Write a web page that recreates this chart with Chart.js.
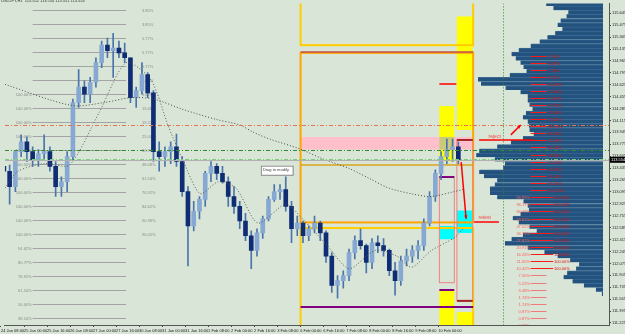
<!DOCTYPE html>
<html>
<head>
<meta charset="utf-8">
<script src="https://cdn.jsdelivr.net/npm/chart.js@4.4.0/dist/chart.umd.min.js"></script>
<style>
  html, body { margin: 0; padding: 0; background: #d9e6d7; }
  #wrap { width: 625px; height: 334px; }
</style>
</head>
<body>
<div id="wrap"><canvas id="chart"></canvas></div>
<script>
// USDJPY, 24 Jan - 10 Feb, drawn as 4 hour candles (x = trading hours from 24 Jan 08:00)
const opens = [
  113.46, 113.39, 113.17, 113.67, 113.81, 113.67, 113.55, 113.64, 113.67, 113.46,
  113.17, 113.24, 113.60, 114.37, 114.59, 114.49, 114.66, 114.94, 115.19, 115.11,
  115.15, 115.08, 115.01, 114.44, 114.54, 114.77, 114.51, 113.67, 113.60, 113.67,
  113.74, 113.53, 113.10, 112.61, 112.82, 112.99, 113.36, 113.46, 113.36, 113.24,
  113.03, 112.89, 112.68, 112.47, 112.26, 112.51, 112.71, 112.99, 113.10, 113.13,
  112.89, 112.57, 112.65, 112.47, 112.57, 112.65, 112.51, 112.18, 111.76, 111.83,
  111.90, 112.23, 112.40, 112.33, 112.09, 112.37, 112.33, 112.26, 111.97, 111.83,
  112.11, 112.18, 112.26, 112.33, 112.65, 113.03, 113.36, 113.60, 113.70, 113.74
];
const highs = [
  113.53, 113.48, 113.67, 113.91, 113.88, 113.74, 113.70, 113.91, 113.74, 113.53,
  113.31, 113.67, 114.42, 114.84, 114.68, 114.73, 115.01, 115.25, 115.29, 115.36,
  115.25, 115.22, 115.01, 114.59, 114.94, 114.80, 114.54, 113.81, 113.74, 113.81,
  113.92, 113.60, 113.17, 112.96, 113.03, 113.39, 113.53, 113.50, 113.46, 113.31,
  113.17, 112.96, 112.79, 112.54, 112.57, 112.75, 113.03, 113.20, 113.20, 113.31,
  112.96, 112.75, 112.68, 112.61, 112.75, 112.68, 112.54, 112.23, 111.90, 111.97,
  112.28, 112.47, 112.57, 112.35, 112.43, 112.47, 112.43, 112.28, 112.09, 112.18,
  112.28, 112.33, 112.40, 112.71, 113.10, 113.41, 113.67, 113.85, 113.85, 113.81
];
const lows = [
  113.31, 112.92, 113.10, 113.60, 113.53, 113.46, 113.46, 113.55, 113.39, 113.03,
  113.03, 113.10, 113.55, 114.30, 114.37, 114.37, 114.59, 114.87, 115.01, 114.73,
  115.01, 114.94, 114.37, 114.30, 114.49, 114.44, 113.53, 113.39, 113.46, 113.50,
  113.46, 113.03, 112.04, 112.54, 112.71, 112.89, 113.24, 113.27, 113.22, 112.89,
  112.79, 112.57, 112.40, 112.00, 112.18, 112.43, 112.68, 112.96, 112.99, 112.82,
  112.37, 112.47, 112.37, 112.40, 112.51, 112.40, 112.09, 111.66, 111.58, 111.72,
  111.83, 112.14, 112.28, 111.94, 112.00, 112.23, 112.18, 111.90, 111.62, 111.76,
  112.04, 112.09, 112.14, 112.26, 112.61, 112.96, 113.27, 113.50, 113.53, 113.50
];
const closes = [
  113.39, 113.17, 113.67, 113.81, 113.67, 113.55, 113.64, 113.67, 113.46, 113.17,
  113.24, 113.60, 114.37, 114.59, 114.49, 114.66, 114.94, 115.19, 115.11, 115.15,
  115.08, 115.01, 114.44, 114.54, 114.77, 114.51, 113.67, 113.60, 113.67, 113.74,
  113.53, 113.10, 112.61, 112.82, 112.99, 113.36, 113.46, 113.36, 113.24, 113.03,
  112.89, 112.68, 112.47, 112.26, 112.51, 112.71, 112.99, 113.10, 113.13, 112.89,
  112.57, 112.65, 112.47, 112.57, 112.65, 112.51, 112.18, 111.76, 111.83, 111.90,
  112.23, 112.40, 112.33, 112.09, 112.37, 112.33, 112.26, 111.97, 111.83, 112.11,
  112.18, 112.26, 112.33, 112.65, 113.03, 113.36, 113.60, 113.70, 113.74, 113.55
];
const barHours = opens.map((o, i) => i * 4 + 2);

// moving averages, [hour, price]
const slowMA = [
  [2.8, 114.63], [49, 114.33], [71.7, 114.37], [90.3, 114.44], [106.2, 114.42], [126.9, 114.27],
  [149.7, 114.13], [166.2, 114.05], [175.2, 113.95], [186.9, 113.85], [207.6, 113.71], [223.4, 113.57],
  [242.1, 113.43], [255.9, 113.29], [269.7, 113.15], [287.6, 113.06], [299.3, 113.03], [315.2, 113.10], [321.4, 113.13]
];
const fastMA = [
  [2.8, 113.15], [11.7, 113.39], [30.3, 113.50], [47.6, 113.48], [68.3, 114.23], [86.9, 114.94],
  [104.1, 114.70], [116.6, 114.02], [128.3, 113.46], [138.6, 113.07], [151, 113.24], [163.4, 113.15],
  [178.6, 112.65], [197.9, 112.92], [209.7, 112.71], [226.9, 112.33], [242.1, 112.00], [260, 112.26],
  [275.2, 112.18], [285.5, 112.02], [299.3, 112.26], [315.2, 112.44], [321.4, 112.57]
];

// volume profile on the right
const profileLevels = [
  115.78, 115.72, 115.66, 115.60, 115.54, 115.48, 115.42, 115.36, 115.30, 115.24,
  115.18, 115.12, 115.06, 115.00, 114.94, 114.88, 114.82, 114.76, 114.70, 114.64,
  114.58, 114.52, 114.46, 114.40, 114.34, 114.28, 114.22, 114.16, 114.10, 114.04,
  113.98, 113.92, 113.86, 113.80, 113.74, 113.68, 113.62, 113.56, 113.50, 113.44,
  113.38, 113.32, 113.26, 113.20, 113.14, 113.08, 113.02, 112.96, 112.90, 112.84,
  112.78, 112.72, 112.66, 112.60, 112.54, 112.48, 112.42, 112.36, 112.30, 112.24,
  112.18, 112.12, 112.06, 112.00, 111.94, 111.88, 111.82, 111.76, 111.70, 111.64
];
const profileVolume = [
  9.5, 8.3, 5.8, 6.1, 7.1, 7.6, 6.8, 8.0, 9.3, 10.6,
  12.1, 14.1, 15.3, 14.6, 13.8, 13.3, 12.8, 15.6, 20.9, 20.4,
  16.3, 13.8, 12.6, 12.6, 12.3, 11.8, 12.9, 13.4, 12.6, 12.4,
  12.3, 11.6, 13.4, 15.4, 17.7, 20.7, 21.2, 18.1, 16.4, 16.7,
  20.7, 19.9, 17.7, 18.1, 18.9, 18.9, 17.7, 13.3, 12.6, 12.4,
  13.8, 15.1, 14.1, 12.3, 11.1, 13.4, 15.3, 16.4, 12.6, 9.8,
  7.6, 5.5, 4.0, 4.5, 6.0, 6.6, 5.1, 3.2, 1.2, 0.2
];

// axis ticks
const priceTicks = [
  115.645, 115.475, 115.305, 115.135, 114.965, 114.795, 114.625, 114.455, 114.285, 114.115,
  113.945, 113.775, 113.605, 113.435, 113.265, 113.095, 112.925, 112.755, 112.585, 112.415,
  112.245, 112.075, 111.905, 111.735, 111.565, 111.395, 111.225
];
const timeTicks = [0, 16, 32, 48, 64, 80, 96, 112, 128, 144, 160, 176, 192, 208, 224, 240, 256, 272, 288, 304];
const timeLabels = [
  '24 Jan 08:00', '25 Jan 00:00', '25 Jan 16:00', '26 Jan 08:00', '27 Jan 00:00', '27 Jan 16:00',
  '30 Jan 08:00', '31 Jan 00:00', '31 Jan 16:00', '1 Feb 08:00', '2 Feb 00:00', '2 Feb 16:00',
  '3 Feb 08:00', '6 Feb 00:00', '6 Feb 16:00', '7 Feb 08:00', '8 Feb 00:00', '8 Feb 16:00',
  '9 Feb 08:00', '10 Feb 00:00'
];

// fibo levels on the left
const fibLevels = [
  115.69, 115.49, 115.29, 115.09, 114.89, 114.69, 114.49, 114.29, 114.09, 113.89, 113.69, 113.49,
  113.29, 113.09, 112.89, 112.69, 112.49, 112.29, 112.09, 111.89, 111.69, 111.49, 111.29
];
const fibLeft = [
  '', '', '', '', '', '', '100.00%', '100.00%', '100.00%', '100.00%', '100.00%', '100.00%',
  '100.00%', '100.00%', '100.00%', '100.00%', '100.00%', '94.62%', '80.77%', '76.92%', '61.54%', '50.00%', '38.54%'
];
const fibRight = [
  '3.85%', '3.85%', '5.77%', '5.77%', '5.77%', '9.62%', '9.62%', '13.46%', '19.23%', '25.00%', '30.77%', '48.08%',
  '61.54%', '76.92%', '84.62%', '90.38%', '96.05%', '', '', '', '', '', ''
];
const fibSpan = [22, 87];
const fibLabelHour = 98;

// red level lines over the profile
const levelPrices = [
  115.04, 114.94, 114.84, 114.74, 114.64, 114.53, 114.43, 114.33, 114.23, 114.13,
  114.03, 113.93, 113.83, 113.73, 113.62, 113.52, 113.42, 113.32, 113.22, 113.12,
  113.02, 112.92, 112.82, 112.71, 112.61, 112.51, 112.41, 112.31, 112.21, 112.11,
  112.01, 111.91, 111.80, 111.70, 111.60, 111.50, 111.40, 111.30, 111.20
];
const levelRight = [
  '5.32%', '6.09%', '7.40%', '8.75%', '10.46%', '12.64%', '15.86%', '19.15%', '23.46%', '30.46%',
  '35.76%', '38.28%', '45.48%', '51.38%', '58.36%', '70.10%', '80.56%', '91.06%', '96.15%', '100.00%',
  '100.00%', '100.00%', '100.00%', '100.00%', '100.00%', '100.00%', '100.00%', '100.00%', '100.00%', '100.00%',
  '100.00%', '', '', '', '', '', '', '', ''
];
const levelLeft = [
  '', '', '', '', '', '', '', '', '', '', '', '', '', '', '', '', '', '', '', '',
  '99.99%', '96.17%', '84.73%', '69.81%', '47.52%', '34.78%', '27.82%', '20.91%', '16.26%', '11.65%',
  '10.42%', '7.50%', '5.22%', '3.48%', '1.74%', '1.74%', '0.87%', '0.87%', '0.87%'
];

// drawn objects: hours and prices
const zones = [
  { kind: 'yellow', h: [317, 328], p: [115.60, 113.98] },
  { kind: 'yellow', h: [304.8, 315.2], p: [114.32, 113.53] },
  { kind: 'pink', h: [208.3, 328.3], p: [113.88, 113.70] },
  { kind: 'olive', h: [304.8, 315.2], p: [113.88, 113.70] },
  { kind: 'yellow', h: [304.8, 315.2], p: [111.70, 110.90] },
  { kind: 'yellow', h: [317, 328], p: [111.38, 110.90] },
  { kind: 'cyan', h: [317, 328], p: [112.83, 112.51] },
  { kind: 'cyan', h: [304.8, 315.2], p: [112.61, 112.42] }
];
const frames = [
  { kind: 'gold', h: [208.3, 328.3], p: [116.50, 115.19] },
  { kind: 'orange', h: [208.3, 328.3], p: [115.08, 112.66] },
  { kind: 'gold', h: [208.3, 328.3], p: [112.58, 110.90] },
  { kind: 'salmon', h: [304.8, 315.2], p: [113.31, 111.80] },
  { kind: 'salmon', h: [317, 328], p: [113.84, 111.55] }
];
const segments = [
  { kind: 'brown', h: [208.3, 328.3], p: 115.09 },
  { kind: 'amber', h: [208.3, 328.3], p: 113.48 },
  { kind: 'purple', h: [208.3, 328.3], p: 111.46 },
  { kind: 'purple', h: [304.8, 315.2], p: 111.70 },
  { kind: 'purple', h: [304.8, 315.2], p: 113.31 },
  { kind: 'maroon', h: [317, 328], p: 113.84 },
  { kind: 'maroon', h: [317, 328], p: 111.54 }
];
const redSegments = [
  { h: [304.8, 316.6], p: 114.63 },
  { h: [332.4, 369.7], p: 113.84 },
  { h: [329, 346.2], p: 112.66 }
];
const arrows = [
  { from: [320, 113.52], to: [323.4, 112.71] },
  { from: [354.5, 113.91], to: [361.4, 114.05] }
];
const notes = [
  { text: 'reject', h: 339, p: 113.89 },
  { text: 'retest', h: 332, p: 112.73 }
];
const hLines = [
  { kind: 'dashOrange', p: 114.05 },
  { kind: 'green', p: 113.70 },
  { kind: 'lightgreen', p: 113.57 }
];
const bidPrice = 113.554;
const markerHour = 349;

const palette = {
  yellow: '#ffff00', pink: '#ffc0cb', olive: '#c9c97a', cyan: '#00ffff',
  gold: '#ffcc00', orange: '#ffa500', salmon: '#f08080', brown: '#c0504d',
  amber: '#daa520', purple: '#800080', maroon: '#8b0000', red: '#ff0000',
  green: '#2e8b2e', lightgreen: '#7ccd7c', dashOrange: '#e9714c'
};

const bull = '#86a8d2';
const bear = '#0f2d74';

function hline(ctx, x1, x2, y) {
  ctx.beginPath(); ctx.moveTo(x1, y); ctx.lineTo(x2, y); ctx.stroke();
}

const overlay = {
  id: 'overlay',
  beforeDatasetsDraw(chart) {
    const { ctx, chartArea: a } = chart;
    const X = v => chart.scales.x.getPixelForValue(v);
    const Y = v => chart.scales.y.getPixelForValue(v);
    ctx.save();
    ctx.beginPath(); ctx.rect(a.left, a.top, a.right - a.left, a.bottom - a.top); ctx.clip();

    ctx.font = '4px "Liberation Sans"';
    ctx.textBaseline = 'middle';
    ctx.lineWidth = 1;
    fibLevels.forEach((p, i) => {
      const yy = Math.round(Y(p)) + 0.5;
      ctx.strokeStyle = '#a4a4a4';
      hline(ctx, X(fibSpan[0]), X(fibSpan[1]), yy);
      ctx.fillStyle = '#8a8a8a';
      if (fibLeft[i]) { ctx.textAlign = 'right'; ctx.fillText(fibLeft[i], X(fibSpan[0]) - 1, yy); }
      if (fibRight[i]) { ctx.textAlign = 'left'; ctx.fillText(fibRight[i], X(fibLabelHour), yy); }
    });

    zones.forEach(z => {
      const x1 = X(z.h[0]), x2 = X(z.h[1]), y1 = Y(z.p[0]), y2 = Y(z.p[1]);
      ctx.fillStyle = palette[z.kind];
      ctx.fillRect(x1, y1, x2 - x1, y2 - y1);
    });
    frames.forEach(f => {
      const x1 = X(f.h[0]), x2 = X(f.h[1]), y1 = Y(f.p[0]), y2 = Y(f.p[1]);
      ctx.strokeStyle = palette[f.kind];
      ctx.lineWidth = f.kind === 'salmon' ? 1 : 2;
      ctx.strokeRect(x1, y1, x2 - x1, y2 - y1);
    });
    segments.forEach(s => {
      ctx.strokeStyle = palette[s.kind];
      ctx.lineWidth = s.kind === 'purple' ? 2 : 1.5;
      hline(ctx, X(s.h[0]), X(s.h[1]), Math.round(Y(s.p)));
    });
    ctx.restore();
  },
  afterDatasetsDraw(chart) {
    const { ctx, chartArea: a } = chart;
    const X = v => chart.scales.x.getPixelForValue(v);
    const Y = v => chart.scales.y.getPixelForValue(v);
    ctx.save();
    ctx.beginPath(); ctx.rect(a.left, a.top, a.right - a.left, a.bottom - a.top); ctx.clip();

    ctx.lineWidth = 1;
    ctx.setLineDash([4, 2, 1, 2]);
    hLines.forEach(l => {
      ctx.strokeStyle = palette[l.kind];
      hline(ctx, a.left, a.right, Math.round(Y(l.p)) + 0.5);
    });
    ctx.setLineDash([]);
    ctx.strokeStyle = '#b0b0b0';
    hline(ctx, a.left, a.right, Math.round(Y(bidPrice)) + 0.5);

    ctx.setLineDash([1, 2]);
    ctx.strokeStyle = palette.green;
    const mx = Math.round(X(markerHour)) + 0.5;
    ctx.beginPath(); ctx.moveTo(mx, a.top); ctx.lineTo(mx, a.bottom); ctx.stroke();
    ctx.setLineDash([]);

    // level lines with percentages
    ctx.font = '4px "Liberation Sans"';
    ctx.textBaseline = 'middle';
    levelPrices.forEach((p, i) => {
      const yy = Math.round(Y(p)) + 0.5;
      const both = levelLeft[i] && levelRight[i];
      ctx.strokeStyle = i > 30 ? '#f07a7a' : '#ff1a1a';
      ctx.lineWidth = 1;
      hline(ctx, X(368.3), X(both ? 384 : 379.3), yy);
      if (levelRight[i]) {
        ctx.fillStyle = '#e01010'; ctx.textAlign = 'left';
        ctx.fillText(levelRight[i], X(both ? 384.5 : 380.7), yy);
      }
      if (levelLeft[i]) {
        ctx.fillStyle = '#ff5a5a'; ctx.textAlign = 'right';
        ctx.fillText(levelLeft[i], X(367.8), yy);
      }
    });

    ctx.strokeStyle = palette.red;
    ctx.lineWidth = 1.5;
    redSegments.forEach(s => hline(ctx, X(s.h[0]), X(s.h[1]), Math.round(Y(s.p))));

    ctx.fillStyle = palette.red;
    arrows.forEach(ar => {
      const x1 = X(ar.from[0]), y1 = Y(ar.from[1]), x2 = X(ar.to[0]), y2 = Y(ar.to[1]);
      ctx.beginPath(); ctx.moveTo(x1, y1); ctx.lineTo(x2, y2); ctx.stroke();
      const ang = Math.atan2(y2 - y1, x2 - x1);
      ctx.beginPath();
      ctx.moveTo(x2, y2);
      ctx.lineTo(x2 - 4 * Math.cos(ang - 0.45), y2 - 4 * Math.sin(ang - 0.45));
      ctx.lineTo(x2 - 4 * Math.cos(ang + 0.45), y2 - 4 * Math.sin(ang + 0.45));
      ctx.closePath(); ctx.fill();
    });

    ctx.font = '5px "Liberation Sans"';
    ctx.textAlign = 'left';
    ctx.fillStyle = '#f04848';
    notes.forEach(n => ctx.fillText(n.text, X(n.h), Y(n.p)));

    // "Drag to modify" hint
    const tx = X(180.7), ty = Y(113.47);
    const tw = X(202.8) - tx, th = Y(113.34) - ty;
    ctx.fillStyle = '#ffffff'; ctx.fillRect(tx, ty, tw, th);
    ctx.strokeStyle = '#8a8a8a'; ctx.lineWidth = 1; ctx.strokeRect(tx + 0.5, ty + 0.5, tw, th);
    ctx.fillStyle = '#444'; ctx.font = '4px "Liberation Sans"';
    ctx.fillText('Drag to modify', tx + 2, ty + th / 2);
    ctx.restore();
  },
  afterDraw(chart) {
    const { ctx, chartArea: a } = chart;
    const yy = chart.scales.y.getPixelForValue(bidPrice);
    ctx.save();
    ctx.fillStyle = '#000';
    ctx.fillRect(a.right + 1, yy - 3, 16, 6);
    ctx.fillStyle = '#fff';
    ctx.font = '4px "Liberation Sans"';
    ctx.textBaseline = 'middle'; ctx.textAlign = 'left';
    ctx.fillText(bidPrice.toFixed(3), a.right + 2, yy);
    ctx.fillStyle = '#333';
    ctx.fillText('USDJPY,H1  113.552 113.554 113.551 113.554', 1, 0.5);
    ctx.restore();
  }
};

const candleColor = c => closes[c.dataIndex] >= opens[c.dataIndex] ? bull : bear;

new Chart(document.getElementById('chart'), {
  type: 'bar',
  data: {
    datasets: [
      {
        type: 'line', data: fastMA.map(([h, p]) => ({ x: h, y: p })),
        borderColor: '#5a5a5a', borderWidth: 1, borderDash: [1, 2], pointRadius: 0, tension: 0.25
      },
      {
        type: 'line', data: slowMA.map(([h, p]) => ({ x: h, y: p })),
        borderColor: '#4a4a4a', borderWidth: 1, borderDash: [1, 2], pointRadius: 0, tension: 0.3
      },
      {
        data: closes.map((c, i) => ({ x: barHours[i], y: [opens[i], c] })),
        backgroundColor: candleColor, barThickness: 4, minBarLength: 1, grouped: false
      },
      {
        data: highs.map((hi, i) => ({ x: barHours[i], y: [lows[i], hi] })),
        backgroundColor: '#4b74ad', barThickness: 1, grouped: false
      },
      {
        indexAxis: 'y', xAxisID: 'xp', yAxisID: 'yp',
        data: profileLevels.map((p, i) => ({ y: p, x: [0, profileVolume[i]] })),
        backgroundColor: '#24527e', borderColor: '#3a6994',
        borderWidth: { top: 1, bottom: 0, left: 0, right: 0 }, borderSkipped: false,
        categoryPercentage: 1, barPercentage: 1, grouped: false
      }
    ]
  },
  options: {
    responsive: true,
    maintainAspectRatio: false,
    animation: false,
    layout: { padding: 0 },
    plugins: { legend: { display: false }, tooltip: { enabled: false } },
    scales: {
      x: {
        type: 'linear', position: 'bottom', min: 2.76, max: 422.76, offset: false, bounds: 'data',
        afterBuildTicks: s => { s.ticks = timeTicks.map(v => ({ value: v })); },
        ticks: {
          autoSkip: false, maxRotation: 0, align: 'start', padding: 1, color: '#222',
          font: { size: 4, family: 'Liberation Sans' },
          callback: v => timeLabels[timeTicks.indexOf(v)]
        },
        grid: { drawOnChartArea: false, tickLength: 2, color: '#444', offset: false },
        border: { color: '#555' },
        afterFit: s => { s.height = 9; }
      },
      y: {
        type: 'linear', position: 'right', min: 111.196, max: 115.786, bounds: 'data',
        afterBuildTicks: s => { s.ticks = priceTicks.map(v => ({ value: v })); },
        ticks: {
          padding: 1, color: '#222', font: { size: 4, family: 'Liberation Sans' },
          callback: v => v.toFixed(3)
        },
        grid: { drawOnChartArea: false, tickLength: 2, color: '#444' },
        border: { color: '#555' },
        afterFit: s => { s.width = 16; }
      },
      xp: {
        type: 'linear', display: false, reverse: true, min: -1, max: 100,
        offset: false, bounds: 'data', grid: { offset: false }
      },
      yp: { type: 'linear', display: false, min: 111.196, max: 115.786, offset: false, bounds: 'data' }
    }
  },
  plugins: [overlay]
});
</script>
</body>
</html>
